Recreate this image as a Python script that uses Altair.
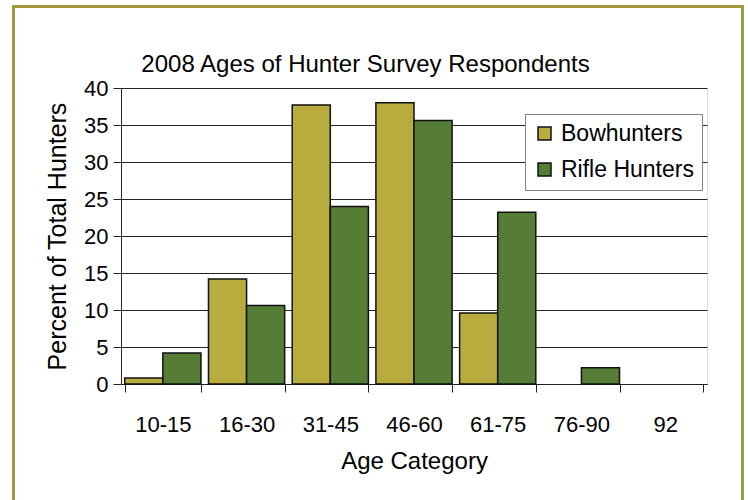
import altair as alt
import pandas as pd

ages = ["10-15", "16-30", "31-45", "46-60", "61-75", "76-90", "92"]
bowhunters = [0.8, 14.2, 37.7, 38.0, 9.6, 0.0, 0.0]
rifle_hunters = [4.2, 10.6, 24.0, 35.6, 23.2, 2.2, 0.0]
groups = ["Bowhunters", "Rifle Hunters"]
colors = ["#B8AC3E", "#567D35"]
title_text = "2008 Ages of Hunter Survey Respondents"

rows = []
for a, b, r in zip(ages, bowhunters, rifle_hunters):
    rows.append({"age": a, "group": groups[0], "value": b})
    rows.append({"age": a, "group": groups[1], "value": r})
df = pd.DataFrame(rows)

FONT = "Liberation Sans, Arial, sans-serif"
W, H = 586, 296
L, T = 121, 88

bars = alt.Chart(df).mark_bar(stroke="#111111", strokeWidth=1.5).encode(
    x=alt.X("age:N", sort=ages,
            scale=alt.Scale(domain=ages, paddingInner=0.09, paddingOuter=0.045),
            axis=alt.Axis(title="Age Category", labelAngle=0, tickBand="extent",
                          tickSize=8, tickColor="#222222", domainColor="#222222",
                          labelFontSize=22, labelPadding=22, titleFontSize=24,
                          titlePadding=14, labelFont=FONT, titleFont=FONT,
                          titleFontWeight="normal", labelColor="#000000",
                          titleColor="#000000")),
    xOffset=alt.XOffset("group:N", sort=groups, scale=alt.Scale(domain=groups)),
    y=alt.Y("value:Q", scale=alt.Scale(domain=[0, 40], nice=False),
            axis=alt.Axis(title="Percent of Total Hunters", values=[0, 5, 10, 15, 20, 25, 30, 35, 40],
                          grid=True, gridColor="#222222", gridWidth=1,
                          tickSize=8, tickColor="#222222", domainColor="#222222",
                          labelFontSize=22, labelPadding=5, titleFontSize=25,
                          titlePadding=13, labelFont=FONT, titleFont=FONT,
                          titleFontWeight="normal", labelColor="#000000",
                          titleColor="#000000")),
    color=alt.Color("group:N", sort=groups,
                    scale=alt.Scale(domain=groups, range=colors),
                    legend=alt.Legend(title=None, orient="none", legendX=404, legendY=26,
                                      symbolType="square", symbolSize=169,
                                      symbolStrokeColor="#111111", symbolStrokeWidth=1.5,
                                      labelFontSize=23, labelFont=FONT, labelColor="#000000",
                                      strokeColor="#808080", fillColor="white",
                                      padding=8, rowPadding=12, labelOffset=5)),
).transform_filter("datum.value > 0")

border = alt.Chart(pd.DataFrame({"k": [0]})).mark_rect(
    filled=False, stroke="#A09A3A", strokeWidth=3
).encode(
    x=alt.value(13.5 - L), x2=alt.value(742.5 - L),
    y=alt.value(6.5 - T), y2=alt.value(530 - T),
)

title = alt.Chart(pd.DataFrame({"t": [title_text]})).mark_text(
    font=FONT, fontSize=24, color="#000000", align="center", baseline="alphabetic"
).encode(
    text="t:N", x=alt.value(365.5 - L), y=alt.value(72 - T),
)

chart = alt.layer(border, bars, title).properties(
    width=W, height=H,
    autosize=alt.AutoSizeParams(type="none"),
    padding={"left": L, "top": T, "right": 748 - L - W, "bottom": 500 - T - H},
).configure_view(stroke="#808080", strokeWidth=1.5).configure(background="white")

chart.save("out.html", embed_options={"renderer": "svg", "actions": False})
